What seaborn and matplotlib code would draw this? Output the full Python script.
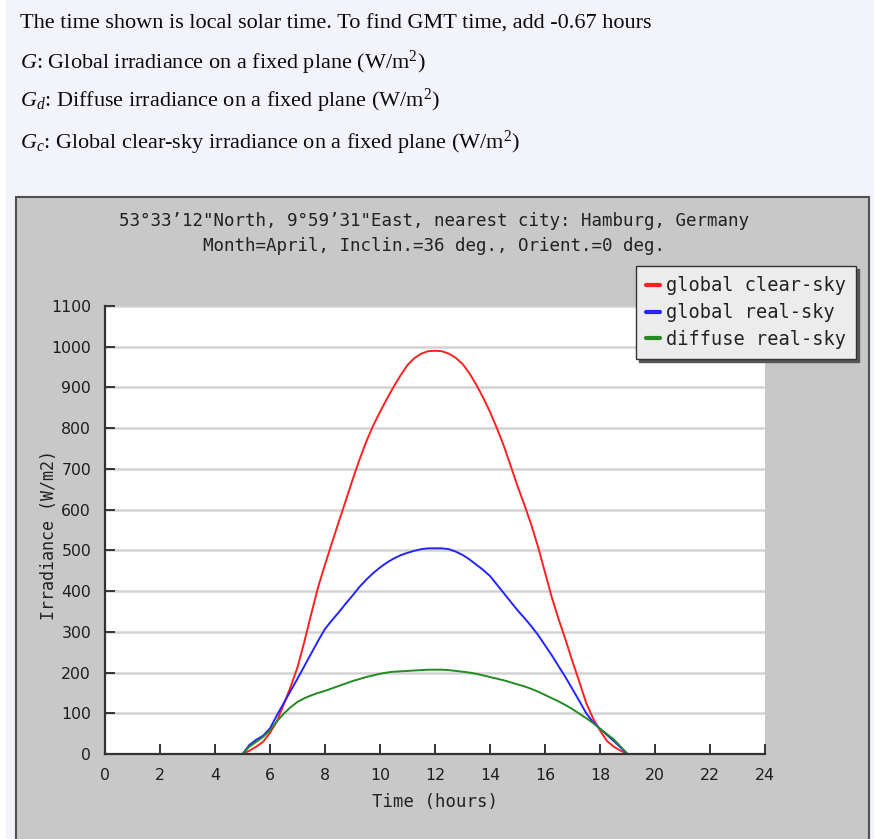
import matplotlib
matplotlib.use("Agg")
import matplotlib.pyplot as plt
from matplotlib.patches import Rectangle
import pandas as pd
import seaborn as sns

# ---- data: quarter-hourly irradiance profile (local solar time, W/m2) ----
hours = [5.0, 5.25, 5.5, 5.75, 6.0, 6.25, 6.5, 6.75, 7.0, 7.25, 7.5, 7.75,
         8.0, 8.25, 8.5, 8.75, 9.0, 9.25, 9.5, 9.75, 10.0, 10.25, 10.5, 10.75,
         11.0, 11.25, 11.5, 11.75, 12.0, 12.25, 12.5, 12.75, 13.0, 13.25, 13.5, 13.75,
         14.0, 14.25, 14.5, 14.75, 15.0, 15.25, 15.5, 15.75, 16.0, 16.25, 16.5, 16.75,
         17.0, 17.25, 17.5, 17.75, 18.0, 18.25, 18.5, 18.75, 19.0]
clear_sky = [0, 8, 18, 30, 52, 80, 122, 165, 213, 276, 344, 410,
             465, 518, 570, 621, 673, 722, 767, 806, 840, 872, 902, 930,
             955, 972, 983, 989, 990, 989, 983, 973, 958, 935, 907, 875,
             840, 800, 757, 708, 658, 612, 563, 508, 446, 384, 330, 280,
             227, 177, 125, 87, 58, 32, 18, 8, 0]
real_sky = [0, 22, 35, 45, 63, 95, 125, 155, 185, 216, 247, 278,
            307, 328, 348, 369, 389, 410, 428, 444, 458, 470, 480, 488,
            494, 499, 503, 505, 505, 505, 503, 497, 489, 478, 465, 452,
            437, 416, 395, 374, 353, 334, 314, 292, 267, 242, 215, 188,
            159, 130, 100, 78, 62, 47, 32, 16, 0]
diffuse = [0, 18, 30, 42, 58, 80, 99, 115, 128, 137, 144, 150,
           155, 161, 167, 173, 179, 184, 189, 193, 197, 200, 202, 203,
           204, 205, 206, 207, 207, 207, 206, 204, 202, 200, 197, 193,
           189, 185, 181, 176, 171, 166, 160, 153, 145, 137, 129, 120,
           110, 99, 88, 76, 62, 49, 36, 18, 0]

series_names = ["global clear-sky", "global real-sky", "diffuse real-sky"]
series_colors = ["#ff2020", "#2424ff", "#228b22"]

x_ticks = list(range(0, 25, 2))
y_ticks = list(range(0, 1101, 100))

title_lines = ["53\u00b033\u201912\"North, 9\u00b059\u201931\"East, nearest city: Hamburg, Germany",
               "Month=April, Inclin.=36 deg., Orient.=0 deg."]
header_lines = [
    "The time shown is local solar time. To find GMT time, add -0.67 hours",
    r"$G$: Global irradiance on a fixed plane (W/m$^2$)",
    r"$G_d$: Diffuse irradiance on a fixed plane (W/m$^2$)",
    r"$G_c$: Global clear-sky irradiance on a fixed plane (W/m$^2$)",
]

df = pd.concat([
    pd.DataFrame({"hour": hours, "irradiance": vals, "series": name})
    for name, vals in zip(series_names, [clear_sky, real_sky, diffuse])
], ignore_index=True)

# ---- styling ----
sns.set_theme(style="white")
plt.rcParams["mathtext.fontset"] = "custom"
plt.rcParams["mathtext.rm"] = "Liberation Serif"
plt.rcParams["mathtext.it"] = "Liberation Serif:italic"
plt.rcParams["font.family"] = ["DejaVu Sans"]

W, H = 874, 839
fig = plt.figure(figsize=(W / 100, H / 100), dpi=100)
fig.patch.set_facecolor("#f3f3fc")

def fx(px):
    return px / W

def fy(py):
    return 1 - py / H

# thin white strip on the far left
fig.add_artist(Rectangle((0, 0), fx(6), 1, transform=fig.transFigure,
                         facecolor="white", edgecolor="none", zorder=-3))
# grey chart panel
fig.add_artist(Rectangle((fx(16), -0.02), fx(869 - 16), (H - 197) / H + 0.02,
                         transform=fig.transFigure, facecolor="#c8c8c8",
                         edgecolor="#505050", linewidth=1.5, zorder=-2))

# header lines
header_y = [29, 69, 107, 149]
for txt, yb in zip(header_lines, header_y):
    fig.text(fx(20), fy(yb), txt, family="Liberation Serif", fontsize=16,
             color="#0a0a0a", va="baseline", ha="left")

ax = fig.add_axes([fx(105), 1 - 754 / H, fx(765 - 105), (754 - 306) / H])
ax.set_facecolor("white")

sns.lineplot(data=df, x="hour", y="irradiance", hue="series",
             hue_order=series_names, palette=series_colors,
             linewidth=1.4, ax=ax, legend=True)

ax.set_xlim(0, 24)
ax.set_ylim(0, 1100)
ax.set_xticks(x_ticks)
ax.set_yticks(y_ticks)
ax.grid(axis="y", color="#d2d2d2", linewidth=1.8)
ax.grid(axis="x", visible=False)
ax.set_axisbelow(True)

for side in ["top", "right"]:
    ax.spines[side].set_visible(False)
for side in ["left", "bottom"]:
    ax.spines[side].set_color("#333333")
    ax.spines[side].set_linewidth(1.6)

ax.tick_params(axis="both", direction="in", length=7, width=1.4,
               color="#333333", labelsize=11.3, labelcolor="#1e1e1e")
ax.tick_params(axis="x", pad=10, bottom=True)
ax.tick_params(axis="y", pad=10, left=True)

mono = "DejaVu Sans Mono"
ax.set_xlabel("Time (hours)", family=mono, fontsize=12.5, color="#222222")
ax.set_ylabel("Irradiance (W/m2)", family=mono, fontsize=12, color="#222222")
ax.xaxis.set_label_coords(0.5, (754 - 793) / 448)
ax.yaxis.set_label_coords((58 - 105) / 660, (754 - 535) / 448)

fig.text(fx(434), fy(226), title_lines[0], family=mono, fontsize=12.6,
         ha="center", va="baseline", color="#222222")
fig.text(fx(434), fy(251), title_lines[1], family=mono, fontsize=12.6,
         ha="center", va="baseline", color="#222222")

handles, labels = ax.get_legend_handles_labels()
leg = ax.legend(handles, labels, loc="upper left",
                bbox_to_anchor=(fx(636), fy(266)), bbox_transform=fig.transFigure,
                borderaxespad=0, frameon=True, fancybox=False,
                shadow={"color": "#555555", "alpha": 1.0},
                facecolor="#ececec", edgecolor="#333333", framealpha=1,
                prop={"family": mono, "size": 13.4},
                handlelength=0.75, handletextpad=0.3, labelspacing=0.42,
                borderpad=0.55)
leg.get_frame().set_linewidth(1.0)
for ln in leg.get_lines():
    ln.set_linewidth(3)
for t in leg.get_texts():
    t.set_color("#222222")

fig.savefig("out.png", dpi=100, facecolor=fig.get_facecolor())
